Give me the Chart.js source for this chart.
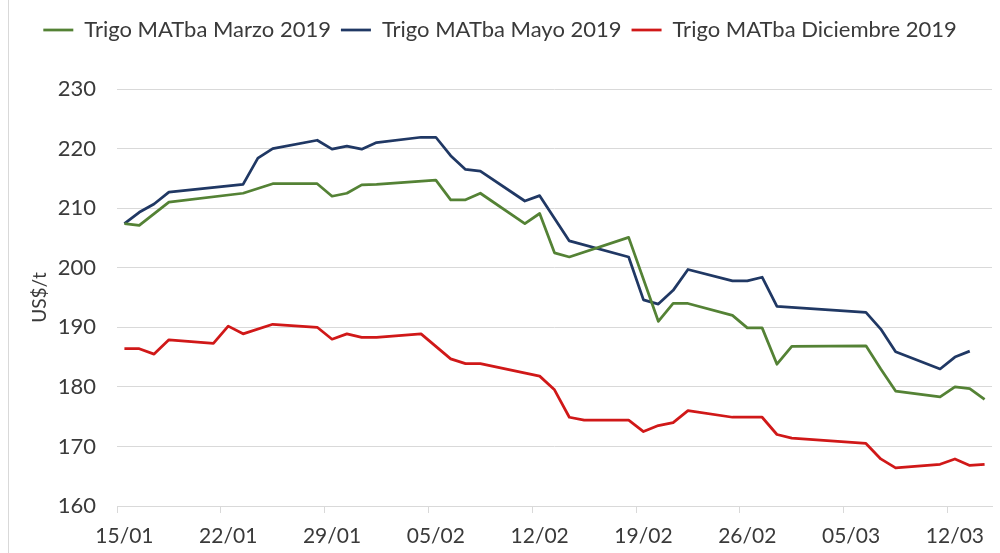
<!DOCTYPE html>
<html>
<head>
<meta charset="utf-8">
<script src="https://cdn.jsdelivr.net/npm/chart.js@4.4.1/dist/chart.umd.min.js"></script>
<style>
	html, body { margin: 0; padding: 0; background: #fff; }
	.chart_wrap { position: relative; width: 1000px; height: 553px; }
	.chart_wrap .frame { position: absolute; left: 8px; top: 0; bottom: 0; width: 1px; background: #d9d9d9; }
	.chart_wrap canvas { position: absolute; left: 0; top: 0; }
</style>
</head>
<body>
<div class="chart_wrap">
	<div class="frame"></div>
	<canvas id="chart_trigo" width="1000" height="553"></canvas>
</div>
<script>
// fechas de las ruedas (dd/mm, 2019)
const fechas = [
	'15/01', '16/01', '17/01', '18/01', '21/01', '22/01', '23/01', '24/01', '25/01',
	'28/01', '29/01', '30/01', '31/01', '01/02', '04/02', '05/02', '06/02', '07/02', '08/02',
	'11/02', '12/02', '13/02', '14/02', '15/02', '18/02', '19/02', '20/02', '21/02', '22/02',
	'25/02', '26/02', '27/02', '28/02', '01/03', '06/03', '07/03', '08/03',
	'11/03', '12/03', '13/03', '14/03',
];

const marzo = [
	207.4, 207.1, null, 211.0, null, null, 212.5, null, 214.1,
	214.1, 212.0, 212.5, 213.9, 214.0, null, 214.7, 211.4, 211.4, 212.5,
	207.4, 209.1, 202.5, 201.8, null, 205.1, null, 191.0, 194.0, 194.0,
	192.0, 189.9, 189.9, 183.8, 186.8, 186.9, 183.0, 179.3,
	178.3, 180.0, 179.7, 177.9,
];

const mayo = [
	207.4, 209.3, 210.7, 212.7, null, null, 214.0, 218.4, 220.0,
	221.4, 219.9, 220.4, 219.9, 221.0, 221.9, 221.9, 218.8, 216.5, 216.2,
	211.2, 212.1, null, 204.5, null, 201.8, 194.6, 193.9, 196.2, 199.7,
	197.8, 197.8, 198.4, 193.5, null, 192.5, 189.7, 185.9,
	183.0, 185.0, 186.0, null,
];

const diciembre = [
	186.4, 186.4, 185.5, 187.9, 187.3, 190.2, 188.9, null, 190.5,
	190.0, 188.0, 188.9, 188.3, 188.3, 188.9, null, 184.7, 183.9, 183.9,
	null, 181.8, 179.5, 174.9, 174.4, 174.4, 172.5, 173.5, 174.0, 176.0,
	174.9, 174.9, 174.9, 172.0, 171.4, 170.5, 167.9, 166.4,
	167.0, 167.9, 166.8, 167.0,
];

const tickLabels = ['15/01', '22/01', '29/01', '05/02', '12/02', '19/02', '26/02', '05/03', '12/03'];

// dias desde el 15/01 (cada dia es una celda, el punto va en el centro)
const dayIndex = s => {
	const [d, m] = s.split('/').map(Number);
	return (Date.UTC(2019, m - 1, d) - Date.UTC(2019, 0, 15)) / 86400000;
};
const toPoints = values => fechas.map((f, i) => ({ x: dayIndex(f) + 0.5, y: values[i] }));

const fontFamily = 'Lato, "Liberation Sans", sans-serif';
const textColor = '#3a3a3a';
const gridColor = '#d9d9d9';

const ctx = document.getElementById('chart_trigo');

const chartTrigo = new Chart(ctx, {
	type: 'line',
	data: {
		datasets: [
			{
				label: 'Trigo MATba Marzo 2019',
				data: toPoints(marzo),
				borderColor: '#548235',
				backgroundColor: '#548235',
				borderWidth: 2.75,
			},
			{
				label: 'Trigo MATba Mayo 2019',
				data: toPoints(mayo),
				borderColor: '#203864',
				backgroundColor: '#203864',
				borderWidth: 2.75,
			},
			{
				label: 'Trigo MATba Diciembre 2019',
				data: toPoints(diciembre),
				borderColor: '#d01818',
				backgroundColor: '#d01818',
				borderWidth: 2.75,
			},
		],
	},
	options: {
		responsive: false,
		animation: false,
		spanGaps: true,
		layout: {
			padding: { top: 9, left: 8, right: 8, bottom: 0 },
		},
		elements: {
			line: { tension: 0, borderJoinStyle: 'round' },
			point: { radius: 0, hoverRadius: 0 },
		},
		plugins: {
			tooltip: { enabled: false },
			legend: {
				position: 'top',
				labels: {
					usePointStyle: true,
					pointStyle: 'line',
					pointStyleWidth: 30,
					padding: 10,
					color: textColor,
					font: { family: fontFamily, size: 22 },
				},
			},
		},
		scales: {
			x: {
				type: 'linear',
				min: 0,
				max: 59,
				border: { display: true, color: gridColor, width: 1 },
				grid: { drawOnChartArea: false, color: gridColor, tickLength: 7 },
				afterBuildTicks: scale => {
					scale.ticks = tickLabels.map(t => ({ value: dayIndex(t) }));
				},
				afterFit: scale => {
					scale.height = 47;
				},
				ticks: {
					autoSkip: false,
					maxRotation: 0,
					padding: 11,
					labelOffset: 7.4,
					color: textColor,
					font: { family: fontFamily, size: 21 },
					callback: (value, index) => tickLabels[index],
				},
			},
			// espacio entre leyenda y grafico
			xTop: {
				type: 'linear',
				position: 'top',
				grid: { display: false },
				border: { display: false },
				ticks: { display: false },
				afterFit: scale => {
					scale.height = 38;
				},
			},
			y: {
				min: 160,
				max: 230,
				border: { display: false },
				grid: { color: gridColor, drawTicks: false },
				afterFit: scale => {
					scale.width = 109;
				},
				title: {
					display: true,
					text: 'US$/t',
					color: textColor,
					font: { family: fontFamily, size: 19 },
					padding: { top: 20, bottom: 0 },
				},
				ticks: {
					stepSize: 10,
					padding: 21,
					color: textColor,
					font: { family: fontFamily, size: 22 },
				},
			},
		},
	},
});
</script>
</body>
</html>
